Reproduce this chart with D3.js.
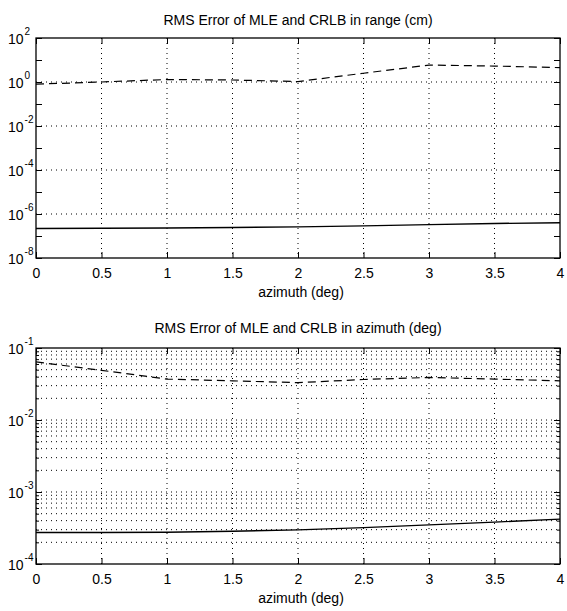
<!DOCTYPE html>
<html>
<head>
<meta charset="utf-8">
<script src="https://cdn.jsdelivr.net/npm/d3@7"></script>
<style>
  body { margin: 0; background: #fff; }
  svg { display: block; font-family: "Liberation Sans", Arial, sans-serif; }
  .tick text { font-size: 14px; fill: #000; }
  .grid line { stroke: #000; stroke-width: 1; stroke-dasharray: 1,4; }
</style>
</head>
<body>
<div id="chart"></div>
<script>
(function() {

  var width = 567;
  var height = 611;

  // data
  var azimuth = [0, 0.5, 1, 1.5, 2, 2.5, 3, 3.5, 4];
  var mleRange = [0.8, 1.0, 1.3, 1.23, 1.05, 2.5, 5.9, 5.3, 4.5];
  var crlbRange = [2.2e-7, 2.25e-7, 2.3e-7, 2.45e-7, 2.6e-7, 2.9e-7, 3.3e-7, 3.7e-7, 4.0e-7];
  var mleAz = [0.064, 0.049, 0.037, 0.035, 0.033, 0.0365, 0.039, 0.037, 0.035];
  var crlbAz = [2.74e-4, 2.74e-4, 2.76e-4, 2.85e-4, 2.98e-4, 3.2e-4, 3.5e-4, 3.82e-4, 4.2e-4];

  var xTicks = [0, 0.5, 1, 1.5, 2, 2.5, 3, 3.5, 4];
  var rangeLabelExp = [2, 0, -2, -4, -6, -8];
  var rangeTickExp = [2, 1, 0, -1, -2, -3, -4, -5, -6, -7, -8];
  var azLabelExp = [-1, -2, -3, -4];

  var panels = [
    {title: "RMS Error of MLE and CRLB in range (cm)", top: 38, bottom: 258,
     domain: [1e-8, 1e2], mle: mleRange, crlb: crlbRange,
     labelExp: rangeLabelExp, tickExp: rangeTickExp, minor: false, titleY: 25},
    {title: "RMS Error of MLE and CRLB in azimuth (deg)", top: 348, bottom: 564,
     domain: [1e-4, 1e-1], mle: mleAz, crlb: crlbAz,
     labelExp: azLabelExp, tickExp: azLabelExp, minor: true, titleY: 333}
  ];

  var left = 36, right = 560;

  var svg = d3.select("#chart").append("svg")
      .attr("width", width)
      .attr("height", height);

  var x = d3.scaleLinear().domain([0, 4]).range([left, right]);

  function drawPanel(p) {
    var y = d3.scaleLog().domain(p.domain).range([p.bottom, p.top]);
    var g = svg.append("g");

    // grid values
    var hGrid;
    if (p.minor) {
      hGrid = [];
      for (var e = -4; e < -1; e++) {
        for (var m = 1; m < 10; m++) {
          var v = m * Math.pow(10, e);
          if (v > p.domain[0] && v < p.domain[1]) hGrid.push(v);
        }
      }
    } else {
      hGrid = p.labelExp.map(e => Math.pow(10, e))
        .filter(v => v > p.domain[0] && v < p.domain[1]);
    }

    var grid = g.append("g").attr("class", "grid");
    grid.selectAll(".v")
      .data(xTicks.slice(1, -1))
      .join("line")
        .attr("x1", d => x(d)).attr("x2", d => x(d))
        .attr("y1", p.top).attr("y2", p.bottom);
    grid.selectAll(".h")
      .data(hGrid)
      .join("line")
        .attr("x1", left).attr("x2", right)
        .attr("y1", d => y(d)).attr("y2", d => y(d));

    // x axes (ticks inward)
    g.append("g")
      .attr("transform", `translate(0,${p.bottom})`)
      .call(d3.axisBottom(x).tickValues(xTicks).tickSize(-6).tickSizeOuter(0)
        .tickPadding(10).tickFormat(d3.format("")))
      .call(a => a.select(".domain").remove());
    g.append("g")
      .attr("transform", `translate(0,${p.top})`)
      .call(d3.axisTop(x).tickValues(xTicks).tickSize(-6).tickSizeOuter(0).tickFormat(""))
      .call(a => a.select(".domain").remove());

    // y ticks
    var major = p.tickExp.map(e => Math.pow(10, e));
    g.append("g")
      .attr("transform", `translate(${left},0)`)
      .call(d3.axisLeft(y).tickValues(major).tickSize(-6).tickSizeOuter(0).tickFormat(""))
      .call(a => a.select(".domain").remove());
    g.append("g")
      .attr("transform", `translate(${right},0)`)
      .call(d3.axisRight(y).tickValues(major).tickSize(-6).tickSizeOuter(0).tickFormat(""))
      .call(a => a.select(".domain").remove());
    if (p.minor) {
      var minorVals = hGrid.filter(v => major.indexOf(v) < 0);
      g.append("g")
        .attr("transform", `translate(${left},0)`)
        .call(d3.axisLeft(y).tickValues(minorVals).tickSize(-3).tickSizeOuter(0).tickFormat(""))
        .call(a => a.select(".domain").remove());
      g.append("g")
        .attr("transform", `translate(${right},0)`)
        .call(d3.axisRight(y).tickValues(minorVals).tickSize(-3).tickSizeOuter(0).tickFormat(""))
        .call(a => a.select(".domain").remove());
    }

    // y labels 10^n
    var lab = g.append("g").selectAll("text")
      .data(p.labelExp)
      .join("text")
        .attr("x", 8)
        .attr("y", d => y(Math.pow(10, d)) + 6)
        .attr("font-size", 14)
        .text("10");
    lab.append("tspan")
        .attr("dy", -9)
        .attr("dx", 1)
        .attr("font-size", 10)
        .text(d => String(d).replace("-", "-"));

    // box
    g.append("rect")
      .attr("x", left).attr("y", p.top)
      .attr("width", right - left).attr("height", p.bottom - p.top)
      .attr("fill", "none").attr("stroke", "#000").attr("stroke-width", 1.3);

    // lines
    var line = d3.line().x((d, i) => x(azimuth[i])).y(d => y(d));
    g.append("path")
      .datum(p.mle)
      .attr("fill", "none").attr("stroke", "#000").attr("stroke-width", 1.2)
      .attr("stroke-dasharray", "8,5")
      .attr("d", line);
    g.append("path")
      .datum(p.crlb)
      .attr("fill", "none").attr("stroke", "#000").attr("stroke-width", 1.4)
      .attr("d", line);

    // titles
    g.append("text")
      .attr("x", (left + right) / 2).attr("y", p.titleY)
      .attr("text-anchor", "middle").attr("font-size", 14)
      .text(p.title);
    g.append("text")
      .attr("x", (left + right) / 2 + 3).attr("y", p.bottom + 39)
      .attr("text-anchor", "middle").attr("font-size", 14)
      .text("azimuth (deg)");
  }

  panels.forEach(drawPanel);

})();
</script>
</body>
</html>
